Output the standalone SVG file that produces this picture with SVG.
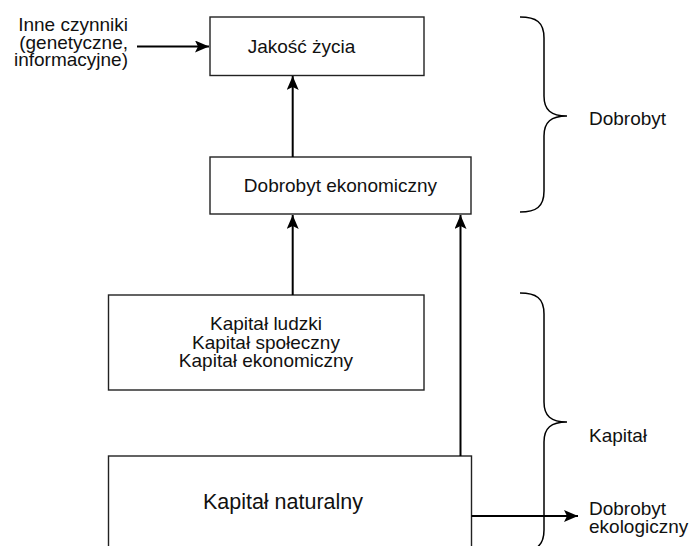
<svg xmlns="http://www.w3.org/2000/svg" width="691" height="546" viewBox="0 0 691 546">
<style>
  .box { fill: #ffffff; stroke: #222222; stroke-width: 1.4; }
  .t { font-family: "Liberation Sans", Arial, Helvetica, sans-serif; font-size: 19px; fill: #111111; }
  .big { font-size: 21.5px; }
  .c { text-anchor: middle; }
  .r { text-anchor: end; }
  .conn { fill: none; stroke: #000000; stroke-width: 2; }
  .brace { fill: none; stroke: #000000; stroke-width: 1.5; }
</style>
<defs>
  <marker id="arr" viewBox="0 0 14 12" refX="14" refY="6" markerWidth="14" markerHeight="12" markerUnits="userSpaceOnUse" orient="auto">
    <path d="M0,0 L14,6 L0,12 L3,6 Z" fill="#000000"/>
  </marker>
</defs>
<rect width="691" height="546" fill="#ffffff"/>

<g id="node-jakosc">
  <rect class="box" x="210" y="17" width="214" height="58.5"/>
  <text class="t c" x="301.5" y="53">Jakość życia</text>
</g>
<g id="node-dobrobyt-ekonomiczny">
  <rect class="box" x="210" y="157" width="261" height="57"/>
  <text class="t c" x="340.5" y="192">Dobrobyt ekonomiczny</text>
</g>
<g id="node-kapital">
  <rect class="box" x="108.5" y="295" width="315.5" height="95"/>
  <text class="t c" x="266" y="330">Kapitał ludzki</text>
  <text class="t c" x="266" y="348.5">Kapitał społeczny</text>
  <text class="t c" x="266" y="367">Kapitał ekonomiczny</text>
</g>
<g id="node-kapital-naturalny">
  <rect class="box" x="108.5" y="456" width="363" height="100"/>
  <text class="t big c" x="283" y="509">Kapitał naturalny</text>
</g>
<g id="label-inne">
  <text class="t r" x="128" y="31">Inne czynniki</text>
  <text class="t r" x="128" y="48.5">(genetyczne,</text>
  <text class="t r" x="128" y="66">informacyjne)</text>
</g>
<g id="label-dobrobyt">
  <text class="t" x="589" y="125">Dobrobyt</text>
</g>
<g id="label-kapital">
  <text class="t" x="589" y="442">Kapitał</text>
</g>
<g id="label-dobrobyt-ekologiczny">
  <text class="t" x="589" y="515">Dobrobyt</text>
  <text class="t" x="589" y="533">ekologiczny</text>
</g>

<g id="connectors">
  <line class="conn" x1="137" y1="46.5" x2="209" y2="46.5" marker-end="url(#arr)"/>
  <line class="conn" x1="292.7" y1="157" x2="292.7" y2="76" marker-end="url(#arr)"/>
  <line class="conn" x1="292.7" y1="295" x2="292.7" y2="215" marker-end="url(#arr)"/>
  <line class="conn" x1="460.5" y1="456" x2="460.5" y2="215" marker-end="url(#arr)"/>
  <line class="conn" x1="471.5" y1="516" x2="578" y2="516" marker-end="url(#arr)"/>
  <path class="brace" d="M520,17 C536,17 544,22 544,38 L544,96 C544,110 551,116 567,116 C551,116 544,122 544,136 L544,191 C544,207 536,212 520,212"/>
  <path class="brace" d="M520,293 C536,293 544,298 544,314 L544,402 C544,416 551,422 567,422 C551,422 544,428 544,442 L544,530 C544,546 536,551 520,551"/>
</g>
</svg>
